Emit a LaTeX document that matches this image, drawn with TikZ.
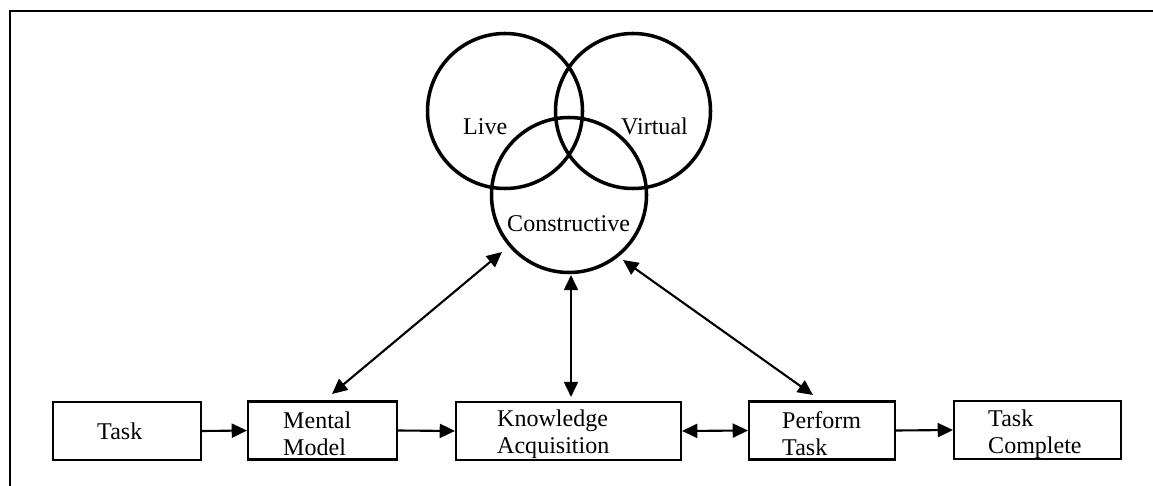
\documentclass[tikz,border=0pt]{standalone}
\usepackage{fontspec}
\setmainfont{Liberation Serif}
\usetikzlibrary{arrows.meta}
\begin{document}
\begin{tikzpicture}[x=0.03cm, y=-0.03cm,
  every node/.style={font=\fontsize{20.5}{23}\selectfont},
  frame/.style={line width=2.4pt},
  box/.style={draw, rectangle, line width=1.8pt, minimum height=1.74cm, inner sep=0pt},
  ring/.style={draw, circle, line width=3pt, minimum size=4.65cm, inner sep=0pt},
  txt/.style={inner sep=0pt, align=left},
  tip/.style={-{Triangle[length=13pt,width=12pt]}, line width=1.8pt},
  both/.style={{Triangle[length=13pt,width=12pt]}-{Triangle[length=13pt,width=12pt]}, line width=1.8pt}]
\useasboundingbox (0,0) rectangle (1153,486);

% outer frame (top and left edges)
\coordinate (frTL) at (10,11);
\coordinate (frTR) at (1153,11);
\coordinate (frBL) at (10,486);
\draw[frame] (frTR) -- (frTL) -- (frBL);

% LVC circles
\node[ring] (live) at (505,111) {};
\node[ring] (virt) at (633,111) {};
\node[ring] (cons) at (569,195) {};
\node[txt, anchor=base west] (liveT) at (463,135) {Live};
\node[txt, anchor=base west] (virtT) at (621,135) {Virtual};
\node[txt, anchor=base west] (consT) at (507,232) {Constructive};

% process boxes
\node[box, minimum width=4.44cm] (task) at (127,431) {};
\node[box, minimum width=4.47cm] (mm) at (322.5,430.5) {};
\node[box, minimum width=6.75cm] (ka) at (568.5,431) {};
\node[box, minimum width=4.38cm] (pt) at (822,430.5) {};
\node[box, minimum width=5.01cm] (tc) at (1037.5,430) {};

\node[txt, anchor=base west] (taskT) at (97,439) {Task};
\node[txt, anchor=west] (mmT) at (283,434) {Mental\\Model};
\node[txt, anchor=west] (kaT) at (497,434) {Knowledge\\Acquisition};
\node[txt, anchor=west] (ptT) at (782,434) {Perform\\Task};
\node[txt, anchor=west] (tcT) at (988,434) {Task\\Complete};

% flow along the bottom row
\draw[tip] (task.east) -- (mm.west);
\draw[tip] (mm.east) -- (ka.west);
\draw[both] (ka.east) -- (pt.west);
\draw[tip] (pt.east) -- (tc.west);

% links between the constructive circle and the process
\coordinate (cL) at (502,252);
\coordinate (cM) at (571,275);
\coordinate (cR) at (623,260);
\coordinate (mmTop) at (332,394);
\coordinate (kaTop) at (571,397);
\coordinate (ptTop) at (813,395);
\draw[both] (cL) -- (mmTop);
\draw[both] (cM) -- (kaTop);
\draw[both] (cR) -- (ptTop);
\end{tikzpicture}
\end{document}
